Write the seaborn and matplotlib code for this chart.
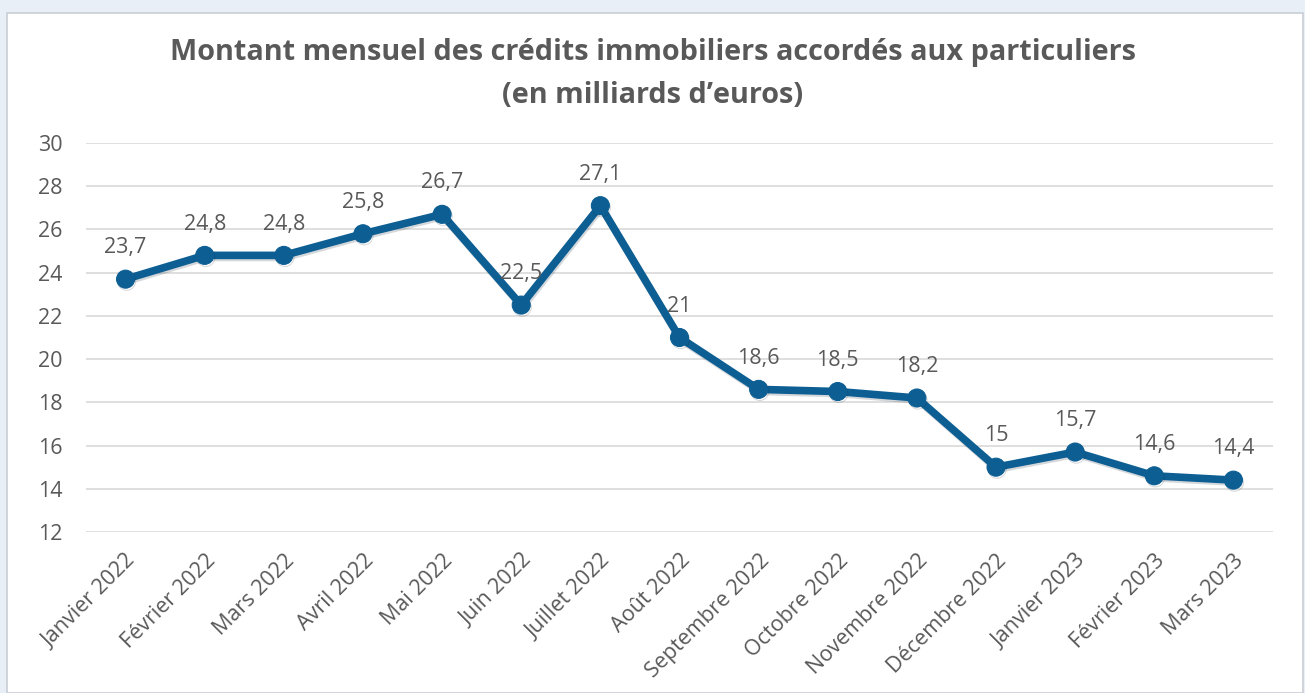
import matplotlib
matplotlib.use('Agg')
import matplotlib.pyplot as plt
import matplotlib.patheffects as pe
from matplotlib.patches import Rectangle
import pandas as pd
import seaborn as sb

#%% data
mois = ['Janvier 2022', 'Février 2022', 'Mars 2022', 'Avril 2022', 'Mai 2022',
        'Juin 2022', 'Juillet 2022', 'Août 2022', 'Septembre 2022', 'Octobre 2022',
        'Novembre 2022', 'Décembre 2022', 'Janvier 2023', 'Février 2023', 'Mars 2023']
montants = [23.7, 24.8, 24.8, 25.8, 26.7, 22.5, 27.1, 21, 18.6, 18.5, 18.2, 15, 15.7, 14.6, 14.4]
yticks = [12, 14, 16, 18, 20, 22, 24, 26, 28, 30]

df = pd.DataFrame({'mois': mois, 'montant': montants})

#%% style
sb.set_style('white')
plt.rcParams['font.family'] = ['Open Sans', 'DejaVu Sans']
grey = '#595959'
blue = '#0c5e93'

fig = plt.figure(figsize=(13.05, 6.93), dpi=100)
fig.patch.set_facecolor('#e8eff7')
card = Rectangle((7 / 1305, 0), 1296 / 1305, 1 - 13 / 693, transform=fig.transFigure,
                 facecolor='white', edgecolor='#c9ced4', linewidth=1.2, zorder=-5)
fig.patches.append(card)

ax = fig.add_axes([86 / 1305, 1 - 532 / 693, (1273 - 86) / 1305, (532 - 143) / 693])
ax.set_facecolor('none')

sb.lineplot(data=df, x='mois', y='montant', ax=ax, color=blue, linewidth=5.5,
            marker='o', markersize=13, markeredgecolor=blue, sort=False,
            path_effects=[pe.SimpleLineShadow(offset=(0.8, -1.5), shadow_color='#1a2a3a', alpha=0.18),
                          pe.Normal()])

for i, v in enumerate(montants):
    lab = ('%g' % v).replace('.', ',')
    ax.annotate(lab, (i, v), xytext=(0, 15), textcoords='offset points',
                ha='center', va='bottom', fontsize=15.5, color=grey)

ax.set_xlim(-0.5, len(mois) - 0.5)
ax.set_ylim(12, 30)
ax.set_yticks(yticks)
ax.set_yticklabels([str(t) for t in yticks])
ax.grid(axis='y', color='#d9d9d9', linewidth=1.2)
ax.set_axisbelow(True)
for s in ax.spines.values():
    s.set_visible(False)
ax.tick_params(axis='both', length=0, labelsize=15.5, labelcolor=grey)
ax.tick_params(axis='y', pad=17)
plt.setp(ax.get_xticklabels(), rotation=45, ha='right', rotation_mode='anchor')
ax.tick_params(axis='x', pad=13)
ax.set_xlabel('')
ax.set_ylabel('')

fig.text(0.5, 1 - 74 / 693, 'Montant mensuel des crédits immobiliers accordés aux particuliers\n(en milliards d\u2019euros)',
         ha='center', va='center', fontsize=20.8, fontweight='bold', color=grey, linespacing=1.6)

fig.savefig('out.png', dpi=100, facecolor=fig.get_facecolor())
